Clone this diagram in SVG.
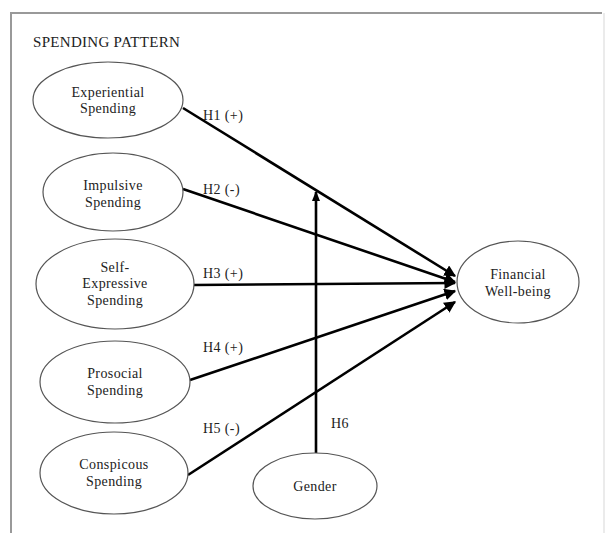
<svg xmlns="http://www.w3.org/2000/svg" width="609" height="533" viewBox="0 0 609 533">
<style>
.n ellipse{fill:#fff;stroke:#555;stroke-width:1.2}
text{font-family:"Liberation Serif","Times New Roman",serif;font-size:14px;fill:#222;text-anchor:middle;letter-spacing:0.4px}
.lbl{text-anchor:start}
.c line{stroke:#000;stroke-width:2.6}
</style>
<defs>
<marker id="ah" viewBox="0 0 10 10" refX="9" refY="5" markerWidth="4.5" markerHeight="4.5" markerUnits="strokeWidth" orient="auto">
<path d="M0,0 L10,5 L0,10 z" fill="#000"/>
</marker>
<marker id="ah2" viewBox="0 0 10 10" refX="9" refY="5" markerWidth="4" markerHeight="5" markerUnits="strokeWidth" orient="auto">
<path d="M0,1 L10,5 L0,9 z" fill="#000"/>
</marker>
</defs>
<rect width="609" height="533" fill="#fff"/>
<path d="M11,540 V13 H602" fill="none" stroke="#999" stroke-width="2"/>
<path d="M604,13 V540" fill="none" stroke="#e4e4e4" stroke-width="1.5"/>
<text class="lbl" x="33" y="47" style="font-size:15px;letter-spacing:0.3px">SPENDING PATTERN</text>
<g class="c">
<line x1="183" y1="108" x2="455" y2="276" marker-end="url(#ah)"/>
<line x1="183" y1="189" x2="455" y2="282" marker-end="url(#ah)"/>
<line x1="194" y1="285" x2="455" y2="283" marker-end="url(#ah)"/>
<line x1="190" y1="380" x2="455" y2="291" marker-end="url(#ah)"/>
<line x1="188" y1="475" x2="455" y2="302" marker-end="url(#ah)"/>
<line x1="316" y1="453" x2="316" y2="192" stroke-width="2" marker-end="url(#ah2)"/>
</g>
<text class="lbl" x="203" y="120">H1 (+)</text>
<text class="lbl" x="203" y="194">H2 (-)</text>
<text class="lbl" x="203" y="278">H3 (+)</text>
<text class="lbl" x="203" y="352">H4 (+)</text>
<text class="lbl" x="203" y="433">H5 (-)</text>
<text class="lbl" x="331" y="428">H6</text>
<g class="n" id="experiential">
<ellipse cx="108" cy="100" rx="75" ry="38"/>
<text x="108" y="97">Experiential</text>
<text x="108" y="113">Spending</text>
</g>
<g class="n" id="impulsive">
<ellipse cx="113" cy="192" rx="70" ry="39"/>
<text x="113" y="190">Impulsive</text>
<text x="113" y="207">Spending</text>
</g>
<g class="n" id="selfexpressive">
<ellipse cx="115" cy="284" rx="79" ry="45"/>
<text x="115" y="272">Self-</text>
<text x="115" y="288">Expressive</text>
<text x="115" y="305">Spending</text>
</g>
<g class="n" id="prosocial">
<ellipse cx="115" cy="382" rx="75" ry="41"/>
<text x="115" y="378">Prosocial</text>
<text x="115" y="395">Spending</text>
</g>
<g class="n" id="conspicous">
<ellipse cx="114" cy="473" rx="74" ry="41"/>
<text x="114" y="469">Conspicous</text>
<text x="114" y="486">Spending</text>
</g>
<g class="n" id="gender">
<ellipse cx="315" cy="486" rx="62" ry="33"/>
<text x="315" y="491">Gender</text>
</g>
<g class="n" id="financial">
<ellipse cx="518" cy="282" rx="61" ry="41"/>
<text x="518" y="279">Financial</text>
<text x="518" y="296">Well-being</text>
</g>
</svg>
